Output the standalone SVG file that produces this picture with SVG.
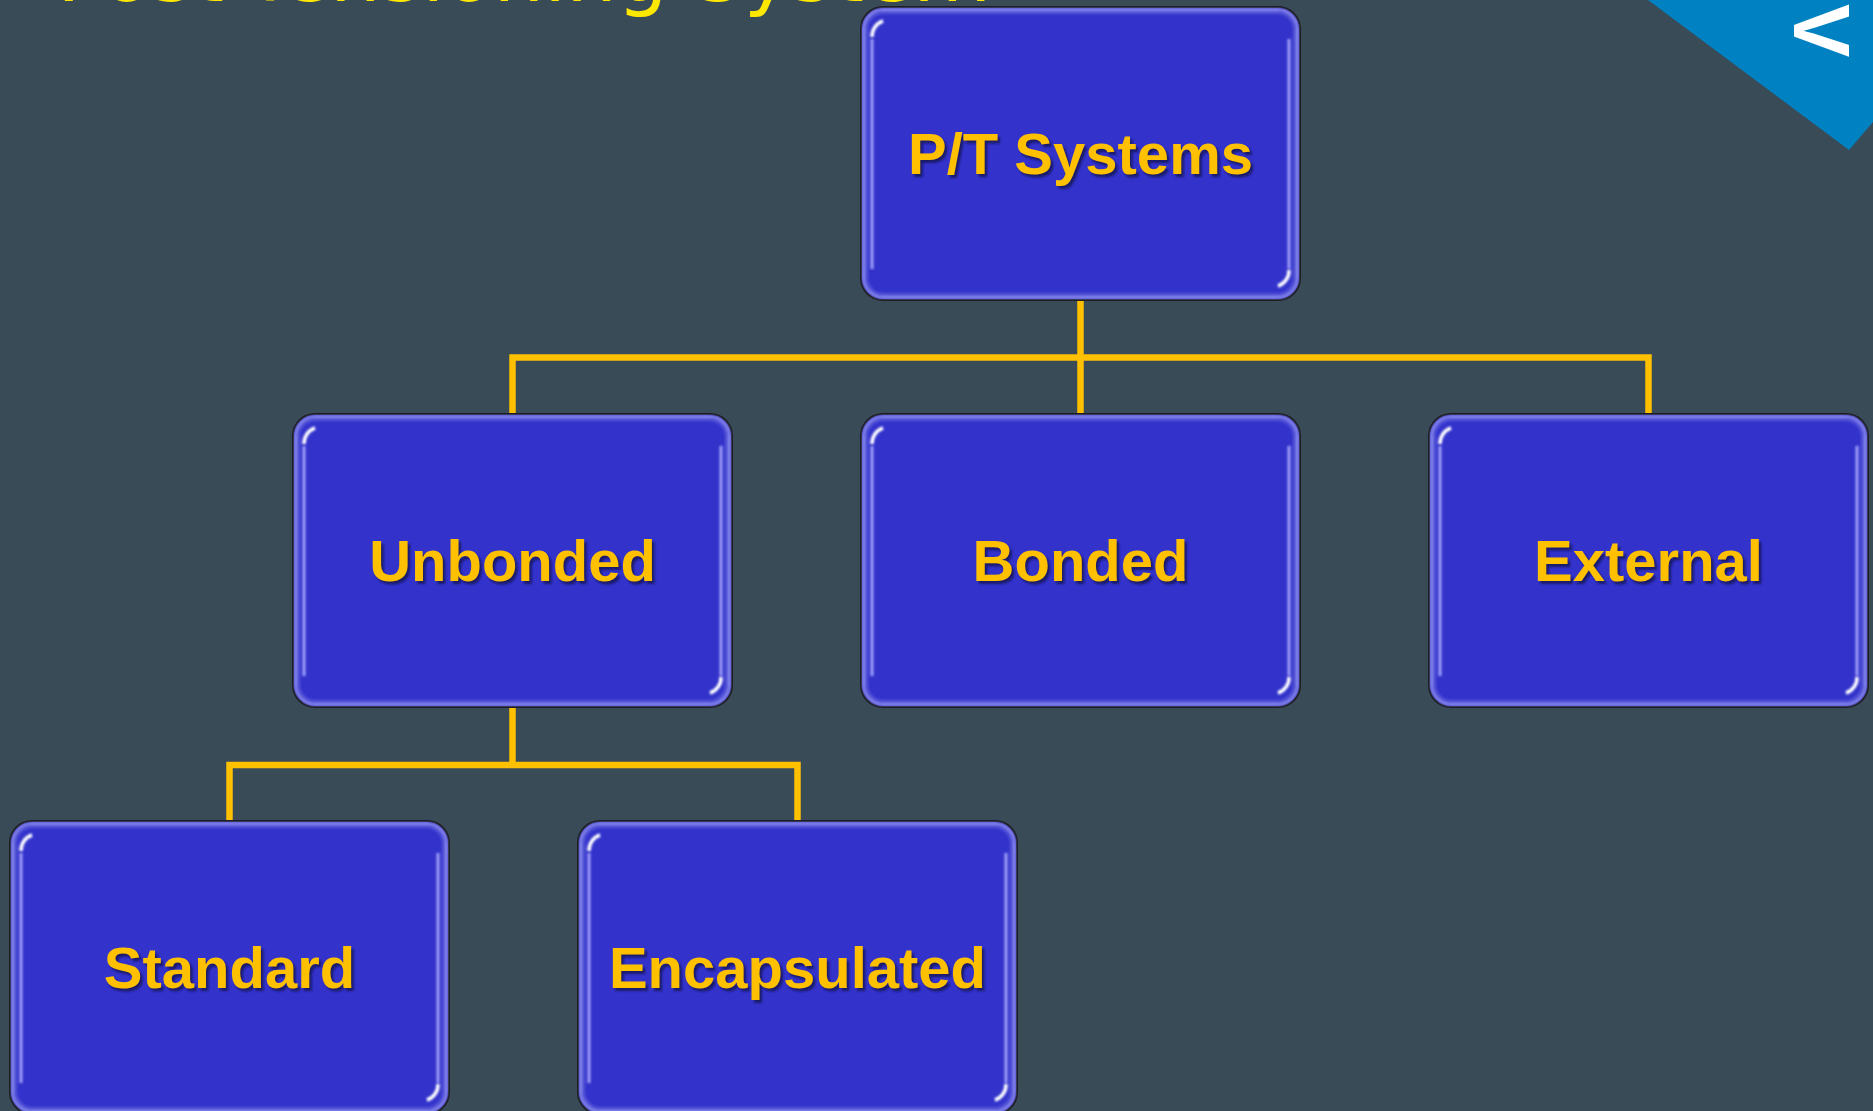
<svg xmlns="http://www.w3.org/2000/svg" xmlns:xlink="http://www.w3.org/1999/xlink" width="1873" height="1111" viewBox="0 0 1873 1111">
  <defs>
    <style>
      .lbl { font-family: "Liberation Sans", Arial, sans-serif; font-weight: bold; font-size: 58px; fill: #FFC000; text-anchor: middle; }
      .lblsh { font-family: "Liberation Sans", Arial, sans-serif; font-weight: bold; font-size: 58px; fill: #15155a; text-anchor: middle; opacity: 0.85; }
      .conn { stroke: #FFC000; stroke-width: 6.5; fill: none; stroke-linecap: butt; stroke-linejoin: miter; }
    </style>
    <filter id="soft" x="-5%" y="-5%" width="110%" height="110%">
      <feGaussianBlur stdDeviation="1.2"/>
    </filter>
    <filter id="tsh" x="-5%" y="-20%" width="110%" height="140%">
      <feGaussianBlur stdDeviation="0.8"/>
    </filter>
    <g id="box">
      <rect x="0" y="0" width="439" height="293" rx="22" ry="22" fill="#3333CC" stroke="#141414" stroke-width="2"/>
      <g filter="url(#soft)">
        <rect x="2.5" y="2.5" width="434" height="288" rx="20" ry="20" fill="none" stroke="#8383ea" stroke-width="3"/>
        <rect x="5.5" y="5.5" width="428" height="282" rx="17" ry="17" fill="none" stroke="#5252d8" stroke-width="3"/>
        <line x1="11" y1="32" x2="11" y2="262" stroke="#b4b4ff" stroke-width="3" opacity="0.85"/>
        <line x1="428" y1="32" x2="428" y2="262" stroke="#b4b4ff" stroke-width="3" opacity="0.85"/>
        <path d="M 11 30 A 16 16 0 0 1 22 14" fill="none" stroke="#ffffff" stroke-width="3.5"/>
        <path d="M 428 263 A 16 16 0 0 1 417 279" fill="none" stroke="#ffffff" stroke-width="3.5"/>
      </g>
    </g>
  </defs>

  <rect x="0" y="0" width="1873" height="1111" fill="#394B56"/>

  <text x="57" y="1" font-family="DejaVu Sans, Verdana, sans-serif" font-size="78" fill="#FFE800" textLength="934" lengthAdjust="spacingAndGlyphs">Post-Tensioning System</text>

  <g id="corner-badge">
    <polygon points="1648,0 1849,150 1873,122 1873,0" fill="#0081C2"/>
    <text transform="translate(1794,4) rotate(90)" x="0" y="0" font-family="Liberation Sans, Arial, sans-serif" font-weight="bold" font-size="80" fill="#FFFFFF">V</text>
  </g>

  <g id="connectors">
    <path class="conn" d="M 1080.5 300 V 414"/>
    <path class="conn" d="M 512.5 414 V 357.5 H 1648.5 V 414"/>
    <path class="conn" d="M 512.5 707 V 765 M 229.5 821 V 765 H 797.5 V 821"/>
  </g>

  <g id="node-pt-systems" transform="translate(861,7)">
    <use xlink:href="#box" href="#box"/>
    <text class="lblsh" x="222" y="169.5" filter="url(#tsh)">P/T Systems</text>
    <text class="lbl" x="219.5" y="166.5">P/T Systems</text>
  </g>

  <g id="node-unbonded" transform="translate(293,414)">
    <use xlink:href="#box" href="#box"/>
    <text class="lblsh" x="222" y="169.5" filter="url(#tsh)">Unbonded</text>
    <text class="lbl" x="219.5" y="166.5">Unbonded</text>
  </g>

  <g id="node-bonded" transform="translate(861,414)">
    <use xlink:href="#box" href="#box"/>
    <text class="lblsh" x="222" y="169.5" filter="url(#tsh)">Bonded</text>
    <text class="lbl" x="219.5" y="166.5">Bonded</text>
  </g>

  <g id="node-external" transform="translate(1429,414)">
    <use xlink:href="#box" href="#box"/>
    <text class="lblsh" x="222" y="169.5" filter="url(#tsh)">External</text>
    <text class="lbl" x="219.5" y="166.5">External</text>
  </g>

  <g id="node-standard" transform="translate(10,821)">
    <use xlink:href="#box" href="#box"/>
    <text class="lblsh" x="222" y="169.5" filter="url(#tsh)">Standard</text>
    <text class="lbl" x="219.5" y="166.5">Standard</text>
  </g>

  <g id="node-encapsulated" transform="translate(578,821)">
    <use xlink:href="#box" href="#box"/>
    <text class="lblsh" x="222" y="169.5" filter="url(#tsh)">Encapsulated</text>
    <text class="lbl" x="219.5" y="166.5">Encapsulated</text>
  </g>
</svg>
